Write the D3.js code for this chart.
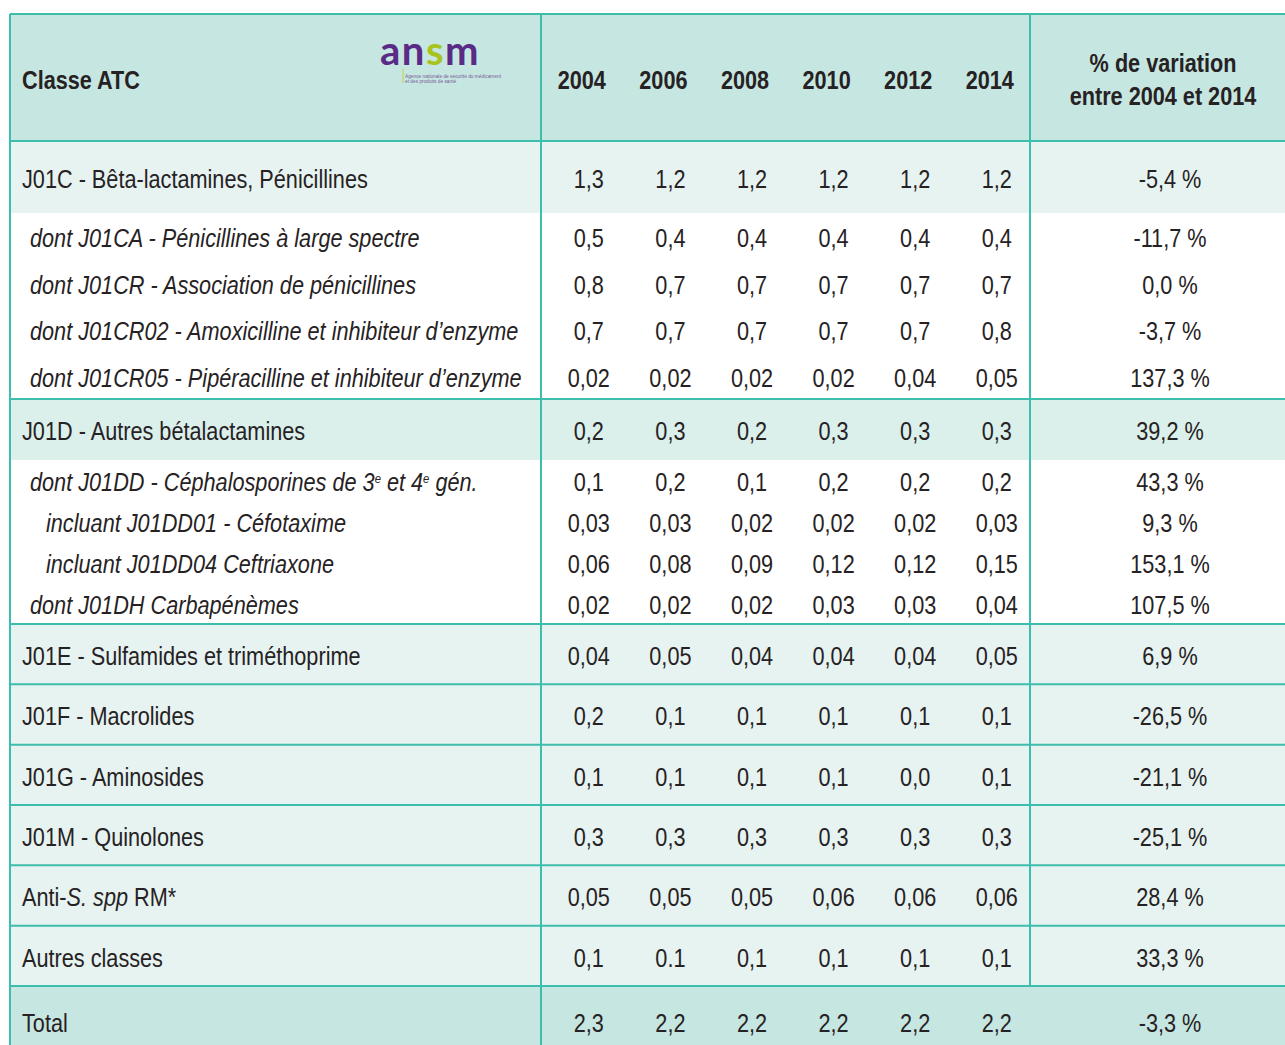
<!DOCTYPE html>
<html>
<head>
<meta charset="utf-8">
<script src="https://cdn.jsdelivr.net/npm/d3@7"></script>
<style>
  body { margin: 0; background: #fff; }
  svg text { font-family: "Liberation Sans", Arial, sans-serif; fill: #262223; }
</style>
</head>
<body>
<div id="chart"></div>
<script>
// table content
var years = ['2004', '2006', '2008', '2010', '2012', '2014'];

var labels = [
  'J01C - Bêta-lactamines, Pénicillines',
  'dont J01CA - Pénicillines à large spectre',
  'dont J01CR - Association de pénicillines',
  'dont J01CR02 - Amoxicilline et inhibiteur d’enzyme',
  'dont J01CR05 - Pipéracilline et inhibiteur d’enzyme',
  'J01D - Autres bétalactamines',
  'dont J01DD - Céphalosporines de 3<sup>e</sup> et 4<sup>e</sup> gén.',
  'incluant J01DD01 - Céfotaxime',
  'incluant J01DD04 Ceftriaxone',
  'dont J01DH Carbapénèmes',
  'J01E - Sulfamides et triméthoprime',
  'J01F - Macrolides',
  'J01G - Aminosides',
  'J01M - Quinolones',
  'Anti-<i>S. spp</i> RM*',
  'Autres classes',
  'Total'
];

// 0 = classe, 1 = "dont", 2 = "incluant"
var levels = [0, 1, 1, 1, 1, 0, 1, 2, 2, 1, 0, 0, 0, 0, 0, 0, 0];

var v2004 = ['1,3', '0,5', '0,8', '0,7', '0,02', '0,2', '0,1', '0,03', '0,06', '0,02', '0,04', '0,2', '0,1', '0,3', '0,05', '0,1', '2,3'];
var v2006 = ['1,2', '0,4', '0,7', '0,7', '0,02', '0,3', '0,2', '0,03', '0,08', '0,02', '0,05', '0,1', '0,1', '0,3', '0,05', '0.1', '2,2'];
var v2008 = ['1,2', '0,4', '0,7', '0,7', '0,02', '0,2', '0,1', '0,02', '0,09', '0,02', '0,04', '0,1', '0,1', '0,3', '0,05', '0,1', '2,2'];
var v2010 = ['1,2', '0,4', '0,7', '0,7', '0,02', '0,3', '0,2', '0,02', '0,12', '0,03', '0,04', '0,1', '0,1', '0,3', '0,06', '0,1', '2,2'];
var v2012 = ['1,2', '0,4', '0,7', '0,7', '0,04', '0,3', '0,2', '0,02', '0,12', '0,03', '0,04', '0,1', '0,0', '0,3', '0,06', '0,1', '2,2'];
var v2014 = ['1,2', '0,4', '0,7', '0,8', '0,05', '0,3', '0,2', '0,03', '0,15', '0,04', '0,05', '0,1', '0,1', '0,3', '0,06', '0,1', '2,2'];

var variation = ['-5,4 %', '-11,7 %', '0,0 %', '-3,7 %', '137,3 %', '39,2 %', '43,3 %', '9,3 %', '153,1 %', '107,5 %',
  '6,9 %', '-26,5 %', '-21,1 %', '-25,1 %', '28,4 %', '33,3 %', '-3,3 %'];

var yearValues = [v2004, v2006, v2008, v2010, v2012, v2014];

// layout
var width = 1285, height = 1045;
var tableLeft = 10, labelRight = 541, yearsRight = 1030;
var headerTop = 14, headerBottom = 141;
var border = '#3dbdab';
var headerFill = '#c6e6e1';
var lightFill = '#e6f3f1';
var midFill = '#dbefeb';
var fontSize = 25;

// row heights: first block sub rows are looser than second block
function rowHeight(i) {
  if (i === 0) return 72;
  if (i === labels.length - 1) return 70;
  if (levels[i] === 0) return i === 5 ? 61 : 60.33;
  return i < 5 ? 46.5 : 41;
}

var rows = [];
var yy = headerBottom;
labels.forEach(function(l, i) {
  var h = rowHeight(i);
  rows.push({i: i, label: l, level: levels[i], y0: yy, y1: yy + h, vals: yearValues.map(function(a) { return a[i]; }), variation: variation[i]});
  yy += h;
});

var x = d3.scaleBand()
  .domain(years)
  .range([548, 1037.6]);

var pctCenter = 1170;

var svg = d3.select('#chart').append('svg')
  .attr('width', width)
  .attr('height', height);

// the source uses a condensed face: squeeze the sans horizontally
function squeeze(str, target, bold) {
  var t = svg.append('text').style('font-size', fontSize + 'px').style('font-weight', bold ? 'bold' : 'normal').text(str);
  var w = t.node().getComputedTextLength();
  t.remove();
  return target / w;
}
var sxR = squeeze(labels[0], 346, false);
var sxB = squeeze('Classe ATC', 118, true);

function place(sel, fx, fy, sx) {
  sel.attr('transform', function(d) { return 'translate(' + fx(d) + ',' + fy(d) + ') scale(' + sx + ',1)'; });
}

// backgrounds
svg.append('rect')
  .attr('x', tableLeft).attr('y', headerTop)
  .attr('width', width - tableLeft).attr('height', headerBottom - headerTop)
  .attr('fill', headerFill);

svg.selectAll('.rowbg')
  .data(rows.filter(function(d) { return d.level === 0; }))
  .enter().append('rect')
  .attr('class', 'rowbg')
  .attr('x', tableLeft)
  .attr('y', function(d) { return d.y0; })
  .attr('width', width - tableLeft)
  .attr('height', function(d) { return d.y1 - d.y0; })
  .attr('fill', function(d) {
    if (d.i === labels.length - 1) return headerFill;
    if (d.i === 5) return midFill;
    return lightFill;
  });

// horizontal rules: above every classe row (not above sub rows)
var hLines = [headerTop, headerBottom].concat(rows.filter(function(d, i) { return d.level === 0 && i > 0; }).map(function(d) { return d.y0; }));
svg.selectAll('.hline')
  .data(hLines)
  .enter().append('line')
  .attr('x1', tableLeft).attr('x2', width)
  .attr('y1', function(d) { return d; }).attr('y2', function(d) { return d; })
  .attr('stroke', border).attr('stroke-width', 2);

var totalTop = rows[rows.length - 1].y0;
var vLines = [
  {x: tableLeft, y1: headerTop, y2: height},
  {x: labelRight, y1: headerTop, y2: height},
  {x: yearsRight, y1: headerTop, y2: totalTop}
];
svg.selectAll('.vline')
  .data(vLines)
  .enter().append('line')
  .attr('x1', function(d) { return d.x; }).attr('x2', function(d) { return d.x; })
  .attr('y1', function(d) { return d.y1; }).attr('y2', function(d) { return d.y2; })
  .attr('stroke', border).attr('stroke-width', 2);

// header
var head = svg.append('g').style('font-weight', 'bold').style('font-size', fontSize + 'px');
head.append('text')
  .datum('Classe ATC')
  .attr('dy', '0.35em')
  .text(function(d) { return d; })
  .call(place, function() { return 22; }, function() { return 80; }, sxB);

head.selectAll('.year')
  .data(years)
  .enter().append('text')
  .attr('dy', '0.35em')
  .style('text-anchor', 'middle')
  .text(function(d) { return d; })
  .call(place, function(d) { return x(d) + x.bandwidth() / 2 - 7; }, function() { return 80; }, sxB);

head.selectAll('.pcthead')
  .data([{t: '% de variation', y: 63}, {t: 'entre ' + years[0] + ' et ' + years[years.length - 1], y: 96}])
  .enter().append('text')
  .attr('dy', '0.35em')
  .style('text-anchor', 'middle')
  .text(function(d) { return d.t; })
  .call(place, function() { return pctCenter - 7; }, function(d) { return d.y; }, sxB);

// logo
var logo = svg.append('g');
logo.append('line')
  .attr('x1', 403).attr('x2', 403).attr('y1', 69).attr('y2', 83)
  .attr('stroke', '#c8d23a').attr('stroke-width', 1);
logo.append('text')
  .attr('x', 380).attr('y', 65)
  .style('font-family', 'Lato, "Noto Sans", sans-serif')
  .style('font-weight', 'bold')
  .style('font-size', '40px')
  .style('letter-spacing', '1.5px')
  .style('fill', '#5a2a87')
  .html('an<tspan style="fill:#a8c41c">s</tspan>m');
logo.selectAll('.tagline')
  .data(['Agence nationale de sécurité du médicament', 'et des produits de santé'])
  .enter().append('text')
  .attr('class', 'tagline')
  .attr('x', 405)
  .attr('y', function(d, i) { return 78 + i * 4.8; })
  .style('font-size', '4.8px').style('fill', '#7a5a98')
  .text(function(d) { return d; });

// body rows
var indent = [22, 30, 46];

function addRich(sel, str) {
  var parts = str.split(/(<i>|<\/i>|<sup>|<\/sup>)/);
  var italic = false, sup = false;
  parts.forEach(function(p) {
    if (p === '<i>') { italic = true; return; }
    if (p === '</i>') { italic = false; return; }
    if (p === '<sup>') { sup = true; return; }
    if (p === '</sup>') { sup = false; return; }
    if (!p) return;
    var t = sel.append('tspan').text(p);
    if (italic) t.style('font-style', 'italic');
    if (sup) t.style('font-size', '13px').attr('baseline-shift', '70%');
  });
}

function rowY(d) { return (d.y0 + d.y1) / 2 + 2; }

var row = svg.selectAll('.row')
  .data(rows)
  .enter().append('g')
  .attr('class', 'row')
  .style('font-size', fontSize + 'px');

row.append('text')
  .attr('dy', '0.35em')
  .style('font-style', function(d) { return d.level > 0 ? 'italic' : 'normal'; })
  .each(function(d) { addRich(d3.select(this), d.label); })
  .call(place, function(d) { return indent[d.level]; }, rowY, sxR);

row.selectAll('.val')
  .data(function(d) { return d.vals.map(function(v, j) { return {v: v, year: years[j], y: rowY(d)}; }); })
  .enter().append('text')
  .attr('class', 'val')
  .attr('dy', '0.35em')
  .style('text-anchor', 'middle')
  .text(function(d) { return d.v; })
  .call(place, function(d) { return x(d.year) + x.bandwidth() / 2; }, function(d) { return d.y; }, sxR);

row.append('text')
  .attr('dy', '0.35em')
  .style('text-anchor', 'middle')
  .text(function(d) { return d.variation; })
  .call(place, function() { return pctCenter; }, rowY, sxR);
</script>
</body>
</html>
